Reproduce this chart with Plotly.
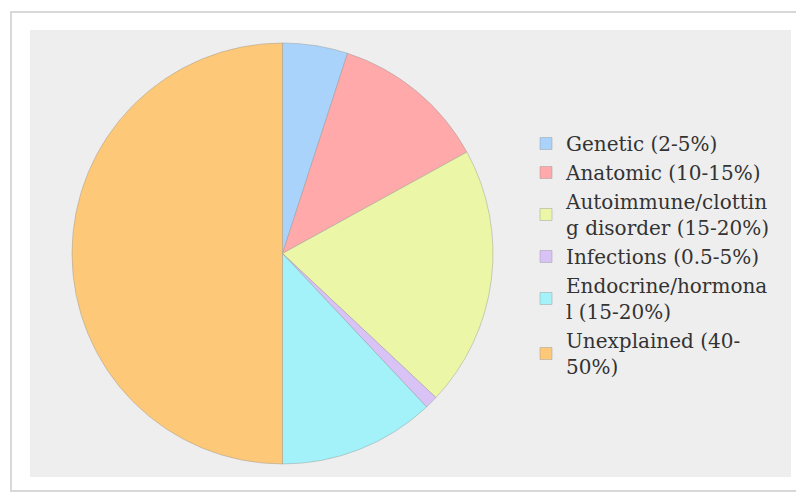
import plotly.graph_objects as go

labels = [
    "Genetic (2-5%)",
    "Anatomic (10-15%)",
    "Autoimmune/clottin<br>g disorder (15-20%)",
    "Infections (0.5-5%)",
    "Endocrine/hormona<br>l (15-20%)",
    "Unexplained (40-<br>50%)",
]
values = [5, 12, 20, 1, 12, 50]
colors = ["#a9d3fb", "#ffa9aa", "#ebf7a6", "#d9c3f6", "#a3f2f9", "#fdc878"]

W, H = 796, 493

def px(x):
    return x / W

def py(y):
    return 1 - y / H

fig = go.Figure()
fig.add_trace(go.Pie(
    labels=labels,
    values=values,
    sort=False,
    direction="clockwise",
    rotation=0,
    textinfo="none",
    hoverinfo="label+percent",
    marker=dict(colors=colors, line=dict(color="rgba(150,150,150,0.55)", width=0.8)),
    domain=dict(x=[px(72), px(493)], y=[py(464), py(43)]),
))

shapes = [
    dict(type="rect", xref="paper", yref="paper",
         x0=px(11), x1=px(800), y0=py(491), y1=py(12),
         line=dict(color="#d8d8d8", width=2), fillcolor="white", layer="below"),
    dict(type="rect", xref="paper", yref="paper",
         x0=px(30), x1=px(791), y0=py(477), y1=py(30),
         line=dict(width=0), fillcolor="#eeeeee", layer="below"),
]

fig.update_layout(
    width=W, height=H,
    margin=dict(l=0, r=0, t=0, b=0),
    paper_bgcolor="white",
    plot_bgcolor="white",
    shapes=shapes,
    showlegend=True,
    legend=dict(
        x=px(526), y=py(124), xanchor="left", yanchor="top",
        font=dict(family="DejaVu Serif", size=20, color="#333333"),
        bgcolor="rgba(0,0,0,0)",
        tracegroupgap=0,
        itemwidth=30,
        valign="middle",
    ),
)

fig.write_html("out.html")
